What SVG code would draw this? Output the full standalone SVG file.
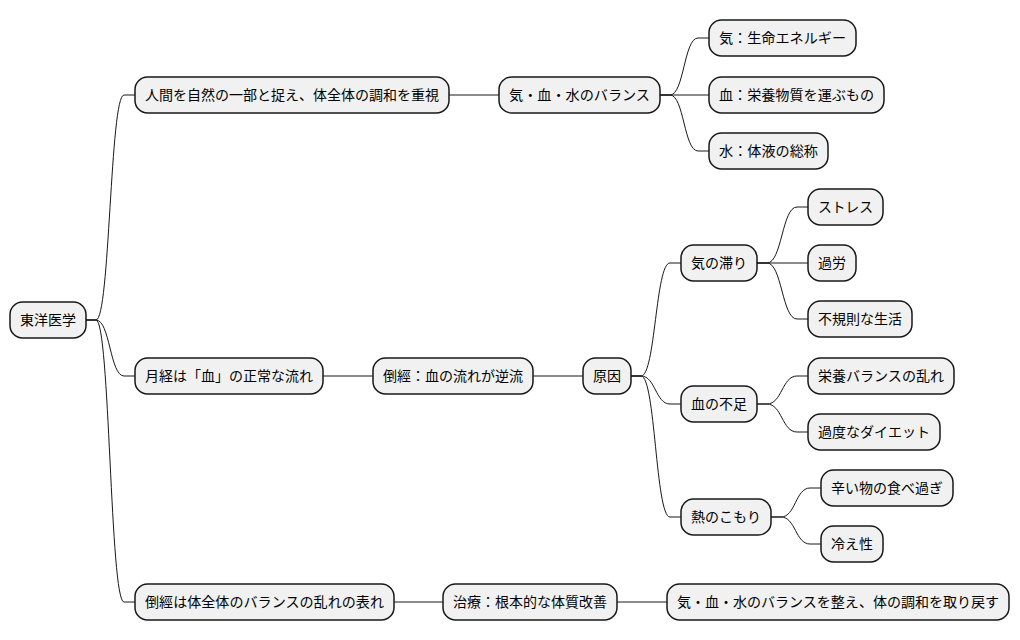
<svg xmlns="http://www.w3.org/2000/svg" width="1020" height="640" viewBox="0 0 1020 640">
<style>
.n rect{fill:#F1F1F1;stroke:#181818;stroke-width:1.5}
.n text{font-family:"Noto Sans CJK JP","Noto Sans",sans-serif;font-size:14px;fill:#000000;text-anchor:start}
#connectors path{fill:none;stroke:#181818;stroke-width:1}
</style>
<rect width="1020" height="640" fill="#FFFFFF"/>
<g id="connectors">
<path d="M86,320 H96 C110,320 110,95 124,95 H135"/>
<path d="M86,320 H96 C110,320 110,376 124,376 H135"/>
<path d="M86,320 H96 C110,320 110,602 124,602 H135"/>
<path d="M449,95 H499"/>
<path d="M660,95 H670 C684,95 684,38 698,38 H709"/>
<path d="M660,95 H709"/>
<path d="M660,95 H670 C684,95 684,151 698,151 H709"/>
<path d="M323,376 H373"/>
<path d="M533,376 H583"/>
<path d="M631,376 H641 C655.5,376 655.5,263 670,263 H681"/>
<path d="M631,376 H641 C655.5,376 655.5,404 670,404 H681"/>
<path d="M631,376 H641 C655.5,376 655.5,517 670,517 H681"/>
<path d="M757,263 H767 C782,263 782,207 797,207 H808"/>
<path d="M757,263 H808"/>
<path d="M757,263 H767 C782,263 782,319 797,319 H808"/>
<path d="M757,404 H767 C782,404 782,376 797,376 H808"/>
<path d="M757,404 H767 C782,404 782,432 797,432 H808"/>
<path d="M771,517 H781 C795.5,517 795.5,488 810,488 H821"/>
<path d="M771,517 H781 C795.5,517 795.5,544 810,544 H821"/>
<path d="M394,602 H443"/>
<path d="M617,602 H667"/>
</g>
<g id="root" class="n"><rect x="10" y="302" width="76" height="36" rx="12.5"/><text x="20" y="325" textLength="56" lengthAdjust="spacingAndGlyphs">東洋医学</text></g>
<g id="a" class="n"><rect x="135" y="77" width="314" height="36" rx="12.5"/><text x="145" y="100" textLength="294" lengthAdjust="spacingAndGlyphs">人間を自然の一部と捉え、体全体の調和を重視</text></g>
<g id="a1" class="n"><rect x="499" y="77" width="161" height="36" rx="12.5"/><text x="509" y="100" textLength="141" lengthAdjust="spacingAndGlyphs">気・血・水のバランス</text></g>
<g id="a1a" class="n"><rect x="709" y="20" width="147" height="36" rx="12.5"/><text x="719" y="43" textLength="127" lengthAdjust="spacingAndGlyphs">気：生命エネルギー</text></g>
<g id="a1b" class="n"><rect x="709" y="77" width="175" height="36" rx="12.5"/><text x="719" y="100" textLength="155" lengthAdjust="spacingAndGlyphs">血：栄養物質を運ぶもの</text></g>
<g id="a1c" class="n"><rect x="709" y="133" width="119" height="36" rx="12.5"/><text x="719" y="156" textLength="99" lengthAdjust="spacingAndGlyphs">水：体液の総称</text></g>
<g id="b" class="n"><rect x="135" y="358" width="188" height="36" rx="12.5"/><text x="145" y="381" textLength="168" lengthAdjust="spacingAndGlyphs">月経は「血」の正常な流れ</text></g>
<g id="b1" class="n"><rect x="373" y="358" width="160" height="36" rx="12.5"/><text x="383" y="381" textLength="140" lengthAdjust="spacingAndGlyphs">倒經：血の流れが逆流</text></g>
<g id="b2" class="n"><rect x="583" y="358" width="48" height="36" rx="12.5"/><text x="593" y="381" textLength="28" lengthAdjust="spacingAndGlyphs">原因</text></g>
<g id="b2a" class="n"><rect x="681" y="245" width="76" height="36" rx="12.5"/><text x="691" y="268" textLength="56" lengthAdjust="spacingAndGlyphs">気の滞り</text></g>
<g id="b2b" class="n"><rect x="681" y="386" width="76" height="36" rx="12.5"/><text x="691" y="409" textLength="56" lengthAdjust="spacingAndGlyphs">血の不足</text></g>
<g id="b2c" class="n"><rect x="681" y="499" width="90" height="36" rx="12.5"/><text x="691" y="522" textLength="70" lengthAdjust="spacingAndGlyphs">熱のこもり</text></g>
<g id="s1" class="n"><rect x="808" y="189" width="75" height="36" rx="12.5"/><text x="818" y="212" textLength="55" lengthAdjust="spacingAndGlyphs">ストレス</text></g>
<g id="s2" class="n"><rect x="808" y="245" width="48" height="36" rx="12.5"/><text x="818" y="268" textLength="28" lengthAdjust="spacingAndGlyphs">過労</text></g>
<g id="s3" class="n"><rect x="808" y="301" width="104" height="36" rx="12.5"/><text x="818" y="324" textLength="84" lengthAdjust="spacingAndGlyphs">不規則な生活</text></g>
<g id="s4" class="n"><rect x="808" y="358" width="146" height="36" rx="12.5"/><text x="818" y="381" textLength="126" lengthAdjust="spacingAndGlyphs">栄養バランスの乱れ</text></g>
<g id="s5" class="n"><rect x="808" y="414" width="132" height="36" rx="12.5"/><text x="818" y="437" textLength="112" lengthAdjust="spacingAndGlyphs">過度なダイエット</text></g>
<g id="s6" class="n"><rect x="821" y="470" width="132" height="36" rx="12.5"/><text x="831" y="493" textLength="112" lengthAdjust="spacingAndGlyphs">辛い物の食べ過ぎ</text></g>
<g id="s7" class="n"><rect x="821" y="526" width="62" height="36" rx="12.5"/><text x="831" y="549" textLength="42" lengthAdjust="spacingAndGlyphs">冷え性</text></g>
<g id="c" class="n"><rect x="135" y="584" width="259" height="36" rx="12.5"/><text x="145" y="607" textLength="239" lengthAdjust="spacingAndGlyphs">倒經は体全体のバランスの乱れの表れ</text></g>
<g id="c1" class="n"><rect x="443" y="584" width="174" height="36" rx="12.5"/><text x="453" y="607" textLength="154" lengthAdjust="spacingAndGlyphs">治療：根本的な体質改善</text></g>
<g id="c2" class="n"><rect x="667" y="584" width="342" height="36" rx="12.5"/><text x="677" y="607" textLength="322" lengthAdjust="spacingAndGlyphs">気・血・水のバランスを整え、体の調和を取り戻す</text></g>
</svg>
